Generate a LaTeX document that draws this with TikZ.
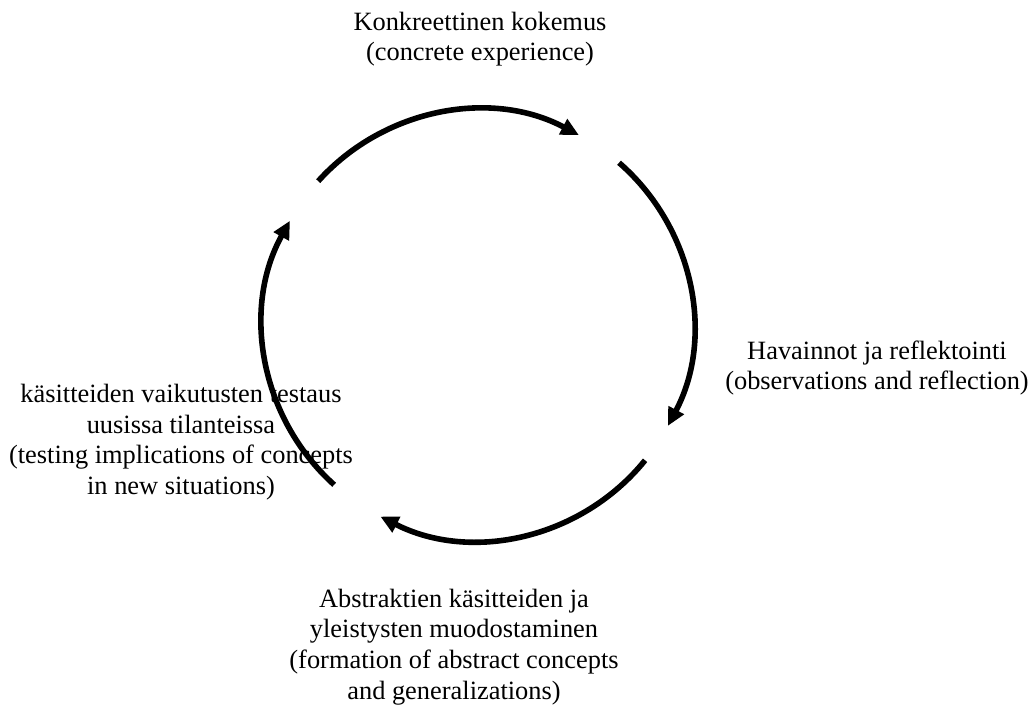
\documentclass[tikz,border=0pt]{standalone}
\usepackage{fontspec}
\setmainfont{Liberation Serif}
\usetikzlibrary{arrows.meta,calc}
\begin{document}
\begin{tikzpicture}[x=0.75pt,y=0.75pt,
  cyclearc/.style={line width=4.2pt, -{Triangle[length=13.5pt,width=12.5pt]}},
  stage/.style={align=center, font=\fontsize{19.8}{23}\selectfont, inner sep=0pt}]
\useasboundingbox (0,0) rectangle (1033,709);
% centre of the learning cycle
\coordinate (c) at (478,384);
\def\R{215}
% four quarter arcs, running clockwise
\draw[cyclearc] ($(c)+(138:\R)$) arc[start angle=138, end angle=62, radius=\R];
\draw[cyclearc] ($(c)+(49:\R)$) arc[start angle=49, end angle=-28, radius=\R];
\draw[cyclearc] ($(c)+(-39:\R)$) arc[start angle=-39, end angle=-117, radius=\R];
\draw[cyclearc] ($(c)+(-132:\R)$) arc[start angle=-132, end angle=-209, radius=\R];
% stage labels
\node[stage] (ce) at (480,670) {Konkreettinen kokemus\\(concrete experience)};
\node[stage] (ro) at (877,341) {Havainnot ja reflektointi\\(observations and reflection)};
\node[stage] (ac) at (454,62) {Abstraktien käsitteiden ja\\yleistysten muodostaminen\\(formation of abstract concepts\\and generalizations)};
\node[stage] (ae) at (181,267) {käsitteiden vaikutusten testaus\\uusissa tilanteissa\\(testing implications of concepts\\in new situations)};
\end{tikzpicture}
\end{document}
